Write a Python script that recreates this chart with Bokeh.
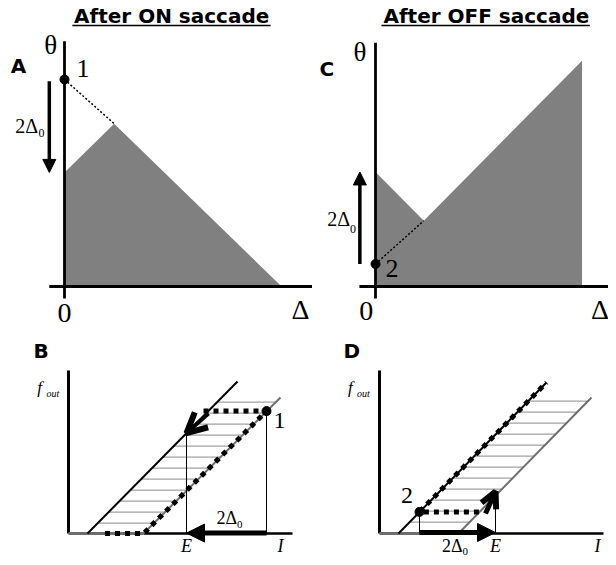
import numpy as np
from bokeh.plotting import figure
from bokeh.layouts import column, row
from bokeh.models import Range1d, Label, Arrow, NormalHead, OpenHead
from bokeh.embed import file_html
from bokeh.resources import INLINE

# ---------------- data (schematic units) ----------------
# Panel A: (Delta, theta) plane after ON saccade
A_region_delta = [0.0, 0.0, 1.08, 4.72]
A_region_theta = [0.0, 2.48, 3.54, 0.0]
A_point1 = [0.0, 4.5]
A_dotted_delta = [0.0, 1.08]
A_dotted_theta = [4.5, 3.54]
A_shift_from = 4.46
A_shift_to = 2.48

# Panel C: (Delta, theta) plane after OFF saccade
C_region_delta = [0.0, 0.0, 1.05, 4.49, 4.49]
C_region_theta = [0.0, 2.49, 1.43, 4.91, 0.0]
C_point2 = [0.0, 0.49]
C_dotted_delta = [0.0, 1.05]
C_dotted_theta = [0.49, 1.43]
C_shift_from = 0.49
C_shift_to = 2.49

# Panel B: f_out vs I, ON case
B_inner_I = [0.95, 8.45]
B_inner_f = [0.0, 7.6]
B_outer_I = [3.75, 10.6]
B_outer_f = [0.0, 6.8]
B_hatch = [0.52, 1.07, 1.62, 2.17, 2.72, 3.27, 3.82, 4.37, 4.92, 5.47, 6.02, 6.57]
B_path_I = [6.75, 9.9, 3.75, 1.6]
B_path_f = [6.12, 6.12, 0.0, 0.0]
B_point1 = [9.9, 6.12]
B_E = 5.9
B_E_top = 5.02

# Panel D: f_out vs I, OFF case
D_inner_I = [0.95, 8.35]
D_inner_f = [0.0, 7.55]
D_outer_I = [3.95, 10.6]
D_outer_f = [0.0, 6.8]
D_hatch = [0.57, 1.12, 1.67, 2.22, 2.77, 3.32, 3.87, 4.42, 4.97, 5.52, 6.07, 6.62]
D_path_I = [4.97, 2.0, 8.35]
D_path_f = [1.08, 1.08, 7.55]
D_point2 = [2.0, 1.08]
D_E = 5.8
D_E_top = 1.95

SERIF = "Liberation Serif"
SANS = "DejaVu Sans"
FILL = "#808080"
HATCH = "#8a8a8a"
OUTER = "#6e6e6e"
BASE_SHIFT = {SERIF: 0.3375, SANS: 0.346}


def panel(left, top, w, h, ox, oy, s):
    p = figure(width=w, height=h,
               x_range=Range1d((left - ox) / s, (left + w - ox) / s),
               y_range=Range1d((oy - top - h) / s, (oy - top) / s),
               output_backend="svg", toolbar_location=None,
               x_axis_location=None, y_axis_location=None,
               min_border=0, outline_line_color=None,
               background_fill_color="white", border_fill_color="white")
    p.grid.visible = False
    return p


def txt(p, x, y, s, size, font=SERIF, style="normal", align="left"):
    p.add_layout(Label(x=x, y=y, text=s, text_font=font, text_font_size=f"{size}px",
                       text_font_style=style, text_align=align, text_baseline="alphabetic",
                       y_offset=BASE_SHIFT[font] * size, text_color="black"))


def arrow(p, x0, y0, x1, y1, lw, head):
    p.add_layout(Arrow(end=head, x_start=x0, y_start=y0, x_end=x1, y_end=y1,
                       line_width=lw, line_color="black"))


LW, RW = 312, 296

# ---------------- Panel A ----------------
pA = panel(0, 0, LW, 330, 64, 286, 46)
pA.patch(A_region_delta, A_region_theta, color=FILL, line_color=None)
pA.line([0, 0], [-0.26, 5.33], line_width=2.8, color="black")
pA.line([-0.33, 5.6], [0, 0], line_width=2.8, color="black")
pA.line(A_dotted_delta, A_dotted_theta, line_width=1.5, line_dash="2 2", color="black")
pA.scatter([A_point1[0]], [A_point1[1]], size=9, color="black")
arrow(pA, -0.33, A_shift_from, -0.33, A_shift_to, 3.5,
      NormalHead(size=13, fill_color="black", line_color="black"))
txt(pA, 2.33, 5.72, "After ON saccade", 20, SANS, "bold", "center")
pA.line([0.17, 4.48], [5.675, 5.675], line_width=1.5, color="black")
txt(pA, -1.17, 4.65, "A", 20, SANS, "bold")
txt(pA, -0.30, 5.06, "θ", 27, align="center")
txt(pA, 0.26, 4.54, "1", 26)
txt(pA, -1.07, 3.35, "2Δ", 20)
txt(pA, -0.565, 3.24, "0", 12)
txt(pA, 0.0, -0.776, "0", 28, align="center")
txt(pA, 5.13, -0.70, "Δ", 28, align="center")

# ---------------- Panel C ----------------
pC = panel(LW, 0, RW, 330, 375, 286, 46)
pC.patch(C_region_delta, C_region_theta, color=FILL, line_color=None)
pC.line([0, 0], [-0.26, 5.3], line_width=2.8, color="black")
pC.line([-0.35, 5.3], [0, 0], line_width=2.8, color="black")
pC.line(C_dotted_delta, C_dotted_theta, line_width=1.5, line_dash="2 2", color="black")
pC.scatter([C_point2[0]], [C_point2[1]], size=9, color="black")
arrow(pC, -0.34, C_shift_from, -0.34, C_shift_to, 3.5,
      NormalHead(size=13, fill_color="black", line_color="black"))
txt(pC, 2.41, 5.72, "After OFF saccade", 20, SANS, "bold", "center")
pC.line([0.13, 4.66], [5.675, 5.675], line_width=1.5, color="black")
txt(pC, -1.22, 4.57, "C", 20, SANS, "bold")
txt(pC, -0.34, 4.91, "θ", 27, align="center")
txt(pC, 0.22, 0.2, "2", 26)
txt(pC, -1.05, 1.33, "2Δ", 20)
txt(pC, -0.554, 1.17, "0", 12)
txt(pC, -0.2, -0.74, "0", 28, align="center")
txt(pC, 4.88, -0.70, "Δ", 28, align="center")


def io_panel(p, inner_I, inner_f, outer_I, outer_f, hatch):
    xl = np.interp(hatch, inner_f, inner_I)
    xr = np.interp(hatch, outer_f, outer_I)
    p.segment(x0=xl, y0=hatch, x1=xr, y1=hatch, line_width=1, color=HATCH)
    p.line([0, 0], [0, 8.15], line_width=3, color="black")
    p.line([outer_I[0], 11.2], [0, 0], line_width=2.5, color="black")
    p.line([0, outer_I[0]], [0, 0], line_width=3, color=OUTER)
    p.line(outer_I, outer_f, line_width=2, color=OUTER)
    p.line(inner_I, inner_f, line_width=2, color="black")


# ---------------- Panel B ----------------
pB = panel(0, 330, LW, 227, 68, 533, 20)
io_panel(pB, B_inner_I, B_inner_f, B_outer_I, B_outer_f, B_hatch)
pB.line([B_E, B_E], [0, B_E_top], line_width=1, color="black")
pB.line([B_point1[0], B_point1[0]], [0, B_point1[1]], line_width=1, color="black")
pB.line(B_path_I, B_path_f, line_width=5, line_dash="5 5", color="black")
pB.scatter([B_point1[0]], [B_point1[1]], size=9, color="black")
arrow(pB, B_point1[0], 0.02, B_E, 0.02, 5,
      NormalHead(size=18, fill_color="black", line_color="black"))
arrow(pB, 7.0, 6.0, B_E, B_E_top, 4,
      OpenHead(size=20, line_width=6, line_color="black"))
txt(pB, -1.75, 8.8, "B", 20, SANS, "bold")
txt(pB, -1.565, 7.0, "f", 17, style="italic")
txt(pB, -1.1, 6.85, "out", 10, style="italic")
txt(pB, 10.25, 5.25, "1", 24)
txt(pB, 7.4, 0.45, "2Δ", 18)
txt(pB, 8.43, 0.24, "0", 11)
txt(pB, B_E, -0.95, "E", 18, style="italic", align="center")
txt(pB, 10.6, -0.95, "I", 18, style="italic", align="center")

# ---------------- Panel D ----------------
pD = panel(LW, 330, RW, 227, 379, 533, 20)
io_panel(pD, D_inner_I, D_inner_f, D_outer_I, D_outer_f, D_hatch)
pD.line([D_E, D_E], [0, D_E_top], line_width=1, color="black")
pD.line([D_point2[0], D_point2[0]], [0, D_point2[1]], line_width=1, color="black")
pD.line(D_path_I, D_path_f, line_width=5, line_dash="5 5", color="black")
pD.scatter([D_point2[0]], [D_point2[1]], size=9, color="black")
arrow(pD, D_point2[0], 0.05, D_E, 0.05, 5,
      NormalHead(size=18, fill_color="black", line_color="black"))
arrow(pD, 5.3, 1.0, D_E, D_E_top + 0.15, 5,
      OpenHead(size=16, line_width=6, line_color="black"))
txt(pD, -1.8, 8.8, "D", 20, SANS, "bold")
txt(pD, -1.57, 7.0, "f", 17, style="italic")
txt(pD, -1.12, 6.85, "out", 10, style="italic")
txt(pD, 1.08, 1.5, "2", 24)
txt(pD, 3.13, -0.93, "2Δ", 18)
txt(pD, 4.15, -1.07, "0", 11)
txt(pD, D_E, -0.95, "E", 18, style="italic", align="center")
txt(pD, 10.9, -0.95, "I", 18, style="italic", align="center")

layout = column(row(pA, pC, spacing=0), row(pB, pD, spacing=0), spacing=0)
open("out.html", "w").write(file_html(layout, INLINE))
